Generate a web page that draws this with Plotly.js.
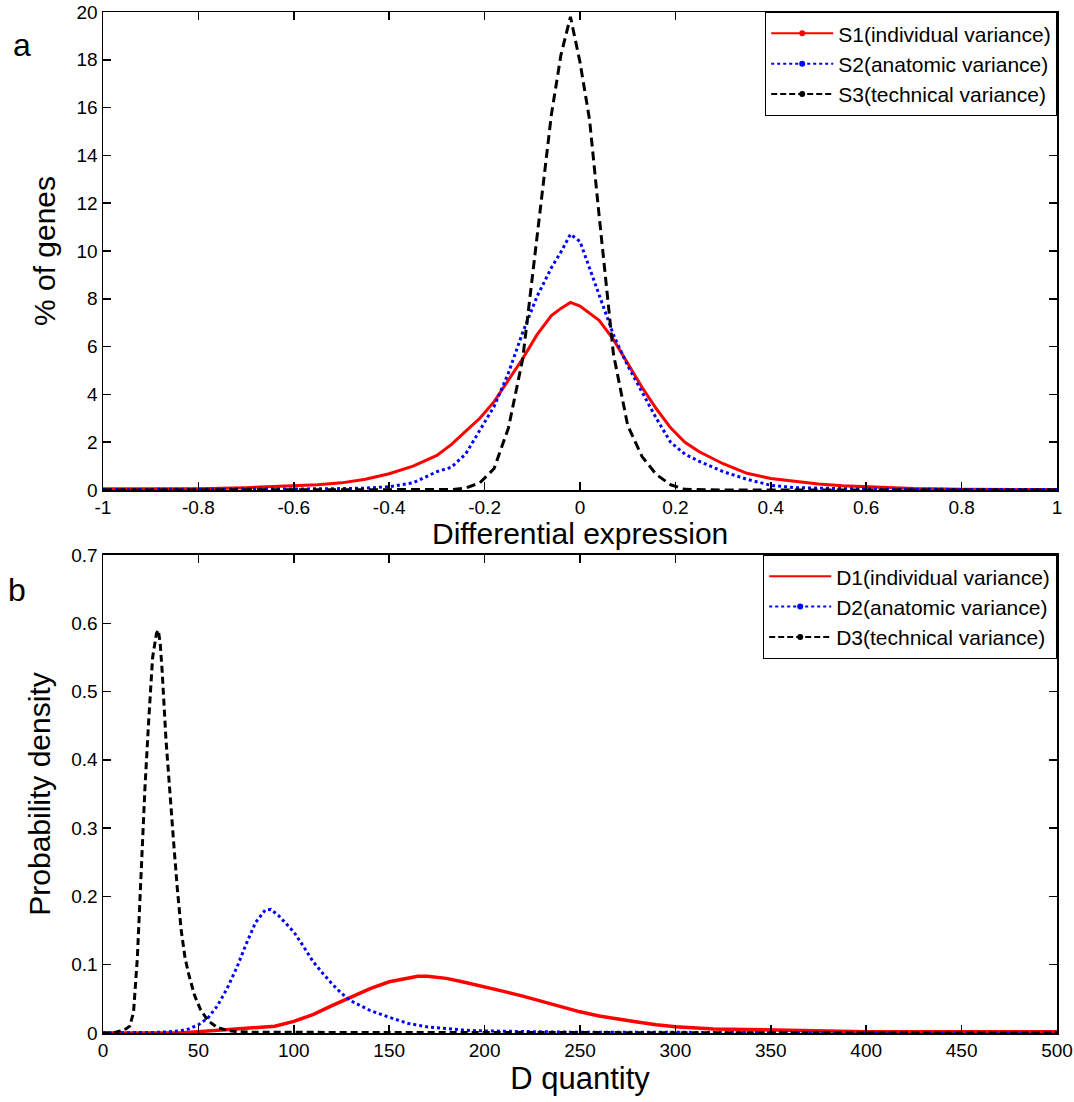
<!DOCTYPE html>
<html>
<head>
<meta charset="utf-8">
<script src="https://cdn.plot.ly/plotly-3.0.1.min.js"></script>
<style>html,body{margin:0;padding:0;background:#fff;}#chart{width:1074px;height:1102px;}</style>
</head>
<body>
<div id="chart"></div>
<script>
// ---- Panel a: differential expression histograms (% of genes)
var xS = [-1,-0.9,-0.8,-0.7,-0.6,-0.55,-0.5,-0.45,-0.4,-0.35,-0.3,-0.27,-0.24,-0.21,-0.18,-0.15,-0.12,-0.09,-0.06,-0.04,-0.02,0,0.02,0.04,0.07,0.1,0.13,0.16,0.19,0.22,0.25,0.3,0.35,0.4,0.45,0.5,0.55,0.6,0.7,0.8,0.9,1];
var S1 = [0.05,0.05,0.05,0.1,0.18,0.22,0.3,0.45,0.68,1.0,1.45,1.9,2.45,3.0,3.7,4.6,5.5,6.5,7.3,7.6,7.85,7.7,7.4,7.1,6.3,5.3,4.3,3.4,2.6,2.0,1.6,1.1,0.7,0.48,0.35,0.25,0.18,0.13,0.06,0.03,0.02,0.02];
var S2 = [0.02,0.02,0.02,0.03,0.04,0.05,0.06,0.08,0.14,0.3,0.77,0.95,1.5,2.5,3.5,4.9,6.6,8.1,9.3,9.96,10.7,10.4,9.3,8.2,6.5,5.2,4.1,3.0,2.0,1.5,1.2,0.77,0.45,0.2,0.1,0.07,0.05,0.04,0.03,0.02,0.02,0.02];
var S3 = [0,0,0,0,0,0,0,0,0,0,0,0.02,0.08,0.3,0.9,2.6,5.5,10.5,15.7,18.2,19.8,17.9,15.5,11.5,5.7,2.7,1.4,0.65,0.22,0.03,0.01,0,0,0,0,0,0,0,0,0,0,0];

// ---- Panel b: probability density of D quantity
var xD1 = [0,40,50,60,70,80,90,100,110,120,130,140,150,160,165,170,180,190,200,210,220,230,240,250,260,270,280,290,300,320,340,360,380,385,400,450,500];
var D1  = [0,0,0.002,0.004,0.005,0.007,0.01,0.017,0.027,0.04,0.052,0.065,0.075,0.081,0.083,0.083,0.08,0.074,0.068,0.061,0.054,0.046,0.038,0.031,0.025,0.02,0.016,0.012,0.009,0.006,0.005,0.004,0.003,0.002,0.002,0.002,0.002];
var xD2 = [0,20,30,40,45,50,55,60,65,70,75,80,85,88,92,96,100,105,110,115,120,125,130,135,140,150,160,170,180,190,200,220,250,300,350,400,500];
var D2  = [0,0,0.001,0.003,0.006,0.012,0.022,0.04,0.065,0.095,0.13,0.162,0.18,0.181,0.172,0.16,0.148,0.127,0.105,0.088,0.072,0.058,0.047,0.04,0.033,0.023,0.014,0.009,0.006,0.004,0.003,0.002,0.001,0.001,0,0,0];
var xD3 = [0,5,9,12,14,16,18,20,22,24,26,28,29,30,31,33,35,37,39,41,43,45,48,51,55,60,65,70,80,90,100,150,200,300,400,500];
var D3  = [0,0,0.003,0.006,0.01,0.03,0.11,0.24,0.36,0.46,0.55,0.585,0.59,0.57,0.53,0.43,0.35,0.28,0.21,0.15,0.11,0.085,0.055,0.035,0.018,0.008,0.004,0.002,0.001,0.001,0,0,0,0,0,0];

var namesS = ['S1(individual variance)','S2(anatomic variance)','S3(technical variance)'];
var namesD = ['D1(individual variance)','D2(anatomic variance)','D3(technical variance)'];

var RED = '#ff0000', BLUE = '#0000ff', BLACK = '#000000';
var FONT = 'Liberation Sans, Arial, sans-serif';
var DASH = '9px,5px';

var traces = [
  {x: xS, y: S1, mode: 'lines', line: {color: RED, width: 3}, xaxis: 'x', yaxis: 'y', showlegend: false},
  {x: xS, y: S2, mode: 'lines', line: {color: BLUE, width: 3, dash: 'dot'}, xaxis: 'x', yaxis: 'y', showlegend: false},
  {x: xS, y: S3, mode: 'lines', line: {color: BLACK, width: 3, dash: DASH}, xaxis: 'x', yaxis: 'y', showlegend: false},
  {x: xD1, y: D1, mode: 'lines', line: {color: RED, width: 3.5}, xaxis: 'x2', yaxis: 'y2', showlegend: false},
  {x: xD2, y: D2, mode: 'lines', line: {color: BLUE, width: 3, dash: 'dot'}, xaxis: 'x2', yaxis: 'y2', showlegend: false},
  {x: xD3, y: D3, mode: 'lines', line: {color: BLACK, width: 3, dash: '7px,4px'}, xaxis: 'x2', yaxis: 'y2', showlegend: false},
  // legend entries
  {x: [null], y: [null], name: namesS[0], mode: 'lines+markers', line: {color: RED, width: 2}, marker: {color: RED, size: 6}, xaxis: 'x', yaxis: 'y', legend: 'legend'},
  {x: [null], y: [null], name: namesS[1], mode: 'lines+markers', line: {color: BLUE, width: 2, dash: 'dot'}, marker: {color: BLUE, size: 6}, xaxis: 'x', yaxis: 'y', legend: 'legend'},
  {x: [null], y: [null], name: namesS[2], mode: 'lines+markers', line: {color: BLACK, width: 2, dash: '6px,3px'}, marker: {color: BLACK, size: 6}, xaxis: 'x', yaxis: 'y', legend: 'legend'},
  {x: [null], y: [null], name: namesD[0], mode: 'lines', line: {color: RED, width: 2}, xaxis: 'x2', yaxis: 'y2', legend: 'legend2'},
  {x: [null], y: [null], name: namesD[1], mode: 'lines+markers', line: {color: BLUE, width: 2, dash: 'dot'}, marker: {color: BLUE, size: 6}, xaxis: 'x2', yaxis: 'y2', legend: 'legend2'},
  {x: [null], y: [null], name: namesD[2], mode: 'lines+markers', line: {color: BLACK, width: 2, dash: '6px,3px'}, marker: {color: BLACK, size: 6}, xaxis: 'x2', yaxis: 'y2', legend: 'legend2'}
];

var axCommon = {
  showline: true, linecolor: '#000', linewidth: 1.5, mirror: 'ticks',
  ticks: 'inside', ticklen: 8, tickwidth: 1.5, tickcolor: '#000',
  showgrid: false, zeroline: false,
  tickfont: {family: FONT, size: 19, color: '#000'}
};
function ax(extra) { return Object.assign({}, axCommon, extra); }

var BOTTOP = 0.4682;
var legendStyle = {bgcolor: '#fff', bordercolor: '#000', borderwidth: 1.2,
  font: {family: FONT, size: 21, color: '#000'}, tracegroupgap: 0, itemwidth: 62};
var layout = {
  width: 1074, height: 1102,
  margin: {l: 103, r: 17, t: 12, b: 69},
  paper_bgcolor: '#fff', plot_bgcolor: '#fff',
  font: {family: FONT, color: '#000'},
  xaxis: ax({domain: [0, 1], range: [-1, 1], anchor: 'y', tickvals: [-1,-0.8,-0.6,-0.4,-0.2,0,0.2,0.4,0.6,0.8,1], ticktext: ['-1','-0.8','-0.6','-0.4','-0.2','0','0.2','0.4','0.6','0.8','1']}),
  yaxis: ax({domain: [0.5318, 1], range: [0, 20], anchor: 'x', dtick: 2,
    title: {text: '% of genes', font: {family: FONT, size: 30}, standoff: 12}}),
  xaxis2: ax({domain: [0, 1], range: [0, 500], anchor: 'y2', dtick: 50,
    title: {text: 'D quantity', font: {family: FONT, size: 31}, standoff: 2}}),
  yaxis2: ax({domain: [0, BOTTOP], range: [0, 0.7], anchor: 'x2', dtick: 0.1,
    title: {text: 'Probability density', font: {family: FONT, size: 30}, standoff: 12}}),
  legend: Object.assign({x: 1, xanchor: 'right', y: 1, yanchor: 'top'}, legendStyle),
  legend2: Object.assign({x: 1, xanchor: 'right', y: BOTTOP, yanchor: 'top'}, legendStyle),
  annotations: [
    {text: 'Differential expression', xref: 'paper', yref: 'paper', x: 0.5, y: 0.4892, xanchor: 'center', yanchor: 'middle', showarrow: false, font: {family: FONT, size: 30, color: '#000'}},
    {text: 'a', xref: 'paper', yref: 'paper', x: -0.085, y: 0.9677, xanchor: 'center', yanchor: 'middle', showarrow: false, font: {family: FONT, size: 32, color: '#000'}},
    {text: 'b', xref: 'paper', yref: 'paper', x: -0.09, y: 0.434, xanchor: 'center', yanchor: 'middle', showarrow: false, font: {family: FONT, size: 32, color: '#000'}}
  ]
};

Plotly.newPlot('chart', traces, layout, {displayModeBar: false, staticPlot: true});
</script>
</body>
</html>
